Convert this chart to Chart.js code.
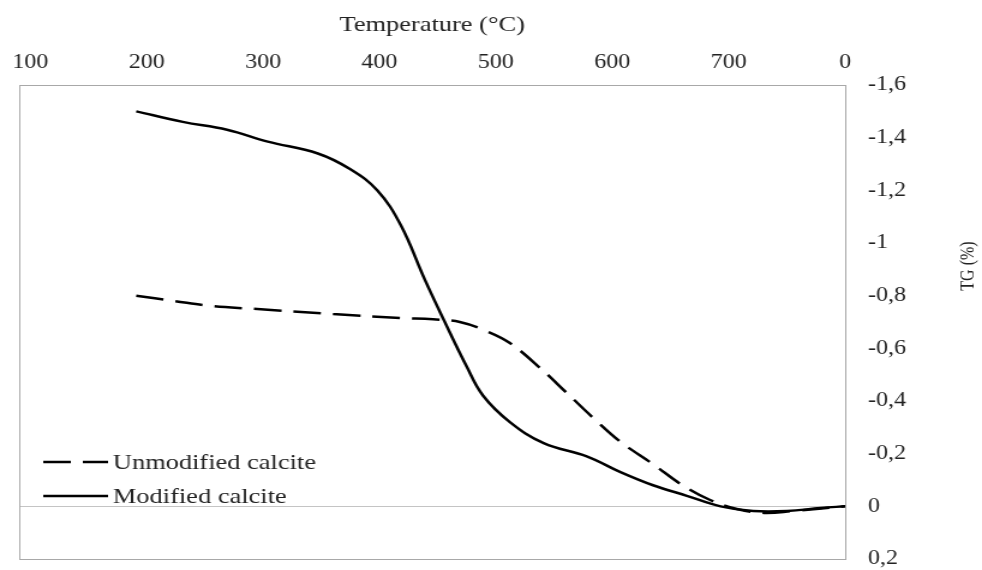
<!DOCTYPE html>
<html><head><meta charset="utf-8">
<script src="https://cdn.jsdelivr.net/npm/chart.js@4.4.1/dist/chart.umd.min.js"></script>
<style>
html,body{margin:0;padding:0;background:#fff;overflow:hidden;}
#wrap{width:818px;height:570px;transform:scaleX(1.2005);transform-origin:0 0;}
canvas{display:block;}
</style></head><body>
<div id="wrap"><canvas id="c" width="818" height="570" style="width:818px;height:570px"></canvas></div>
<script>
// Axis ticks
const xTickValues = [100, 200, 300, 400, 500, 600, 700, 800];
const xTickLabels = ['100', '200', '300', '400', '500', '600', '700', '0'];

// Unmodified calcite (dashed)
const unmodTemp = [191, 223, 257, 292, 360, 418, 446, 469, 492, 512, 538, 561, 585, 607, 635, 661, 684, 707, 730, 755, 800];
const unmodTG   = [-0.80, -0.78, -0.76, -0.75, -0.73, -0.715, -0.71, -0.70, -0.665, -0.62, -0.525, -0.43, -0.33, -0.245, -0.16, -0.078, -0.024, 0.01, 0.025, 0.018, 0.0];

// Modified calcite (solid)
const modTemp = [191, 231, 269, 304, 347, 375, 398, 418, 439, 455, 475, 489, 512, 541, 578, 607, 635, 664, 693, 721, 750, 779, 800];
const modTG   = [-1.50, -1.46, -1.43, -1.385, -1.34, -1.28, -1.20, -1.07, -0.86, -0.71, -0.53, -0.42, -0.32, -0.24, -0.19, -0.13, -0.08, -0.04, 0.00, 0.018, 0.018, 0.006, 0.0];

const seriesNames = ['Unmodified calcite', 'Modified calcite'];
const xTitle = 'Temperature (°C)';
const yTitle = 'TG (%)';

const FAM = "'Liberation Serif','Times New Roman',serif";
const TXT = '#222';

function pts(xs, ys) { return xs.map((x, i) => ({x: x, y: ys[i]})); }
function fmt(v) {
  const r = Math.round(v * 10) / 10;
  if (Math.abs(r) < 1e-9) return '0';
  return String(r).replace('.', ',');
}

const framePlugin = {
  id: 'frame',
  beforeDatasetsDraw(chart) {
    const {ctx, chartArea: a} = chart;
    ctx.save();
    ctx.strokeStyle = '#a8a8a8';
    ctx.lineWidth = 1;
    ctx.strokeRect(Math.round(a.left) + 0.5, Math.round(a.top) + 0.5, Math.round(a.right - a.left), Math.round(a.bottom - a.top));
    ctx.restore();
  }
};

const legendPlugin = {
  id: 'inlegend',
  afterDatasetsDraw(chart) {
    const {ctx, chartArea: a} = chart;
    const offs = [97, 63];
    ctx.save();
    chart.data.datasets.forEach((ds, i) => {
      const y = a.bottom - offs[i];
      ctx.beginPath();
      ctx.strokeStyle = ds.borderColor;
      ctx.lineWidth = ds.borderWidth;
      ctx.setLineDash(ds.borderDash || []);
      ctx.moveTo(a.left + 20, y);
      ctx.lineTo(a.left + 74, y);
      ctx.stroke();
      ctx.setLineDash([]);
      ctx.fillStyle = TXT;
      ctx.font = "22px " + FAM;
      ctx.textAlign = 'left';
      ctx.textBaseline = 'alphabetic';
      ctx.fillText(ds.label, a.left + 78, y + 7);
    });
    ctx.restore();
  }
};

const yTitlePlugin = {
  id: 'ytitle',
  afterDraw(chart) {
    const {ctx} = chart;
    ctx.save();
    ctx.translate(806.5, 266);
    ctx.rotate(-Math.PI / 2);
    ctx.fillStyle = TXT;
    ctx.font = "16px " + FAM;
    ctx.textAlign = 'center';
    ctx.textBaseline = 'middle';
    ctx.fillText(yTitle, 0, 0);
    ctx.restore();
  }
};

new Chart(document.getElementById('c'), {
  type: 'line',
  data: {
    datasets: [
      {label: seriesNames[0], data: pts(unmodTemp, unmodTG), borderColor: '#000', borderWidth: 2.5,
       borderDash: [23, 10], pointRadius: 0, tension: 0.4, fill: false},
      {label: seriesNames[1], data: pts(modTemp, modTG), borderColor: '#000', borderWidth: 2.5,
       pointRadius: 0, tension: 0.4, fill: false}
    ]
  },
  options: {
    responsive: false,
    devicePixelRatio: 1,
    animation: false,
    layout: {padding: {left: 16, bottom: 11, top: 0, right: 0}},
    plugins: {legend: {display: false}, tooltip: {enabled: false}},
    scales: {
      x: {
        type: 'linear', position: 'top', min: 90.5, max: 800,
        afterBuildTicks: a => { a.ticks = xTickValues.map(v => ({value: v})); },
        afterFit: a => { a.height = 85; a.paddingLeft = 0; a.paddingRight = 0; },
        grid: {display: false, drawTicks: false},
        border: {display: false},
        ticks: {padding: 10, color: TXT, font: {family: FAM, size: 20}, maxRotation: 0, autoSkip: false,
                callback: (v, i) => xTickLabels[i]},
        title: {display: true, text: xTitle, color: TXT, font: {family: FAM, size: 22}, padding: {top: 12, bottom: 0}}
      },
      y: {
        type: 'linear', position: 'right', reverse: true, min: -1.6, max: 0.2,
        afterFit: a => { a.width = 114; a.paddingTop = 0; a.paddingBottom = 0; },
        ticks: {stepSize: 0.2, padding: 19, color: TXT, font: {family: FAM, size: 20}, callback: v => fmt(v)},
        grid: {drawTicks: false, lineWidth: 1,
               color: c => (c.tick && Math.abs(c.tick.value) < 1e-9) ? '#c4c4c4' : 'rgba(0,0,0,0)'},
        border: {display: false}
      }
    }
  },
  plugins: [framePlugin, legendPlugin, yTitlePlugin]
});
</script>
</body></html>
